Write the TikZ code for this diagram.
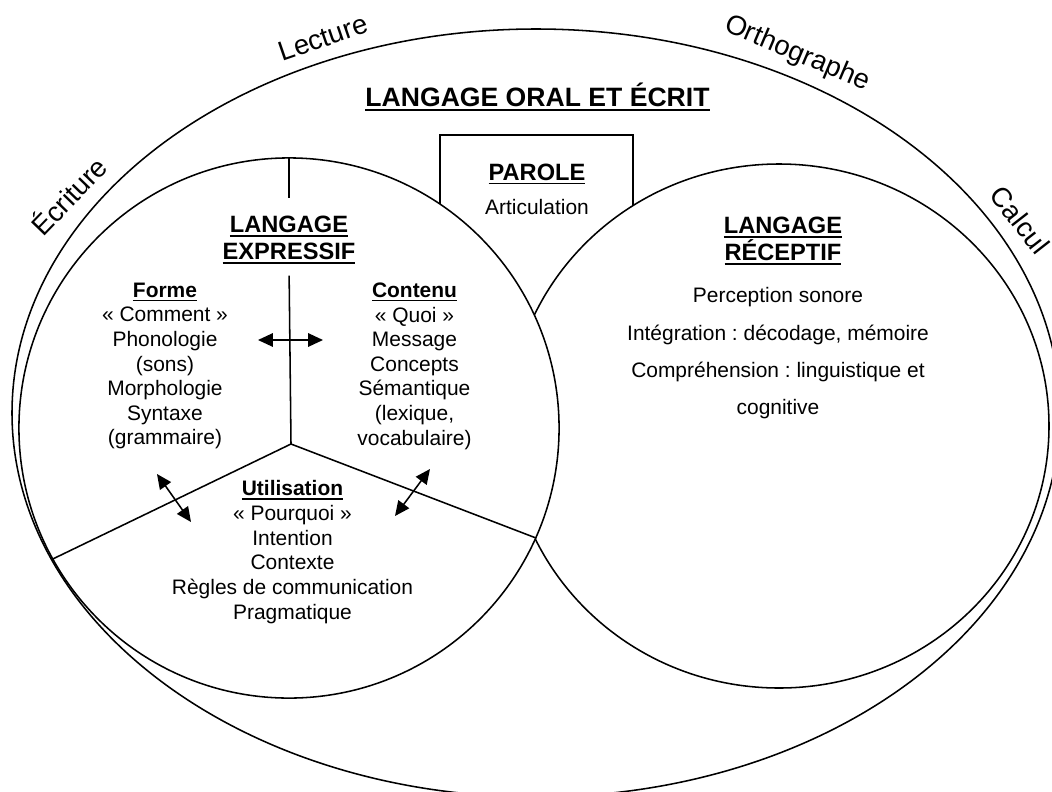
\documentclass[tikz,border=0pt]{standalone}
\usepackage{fontspec}
\setmainfont{Liberation Sans}
\frenchspacing
\usetikzlibrary{positioning}
\usetikzlibrary{arrows.meta}
\newcommand{\ulhead}[1]{\setbox0\hbox{#1}\rlap{\rule[-0.19em]{\wd0}{0.08em}}\box0}

\begin{document}
\begin{tikzpicture}[x=0.025cm,y=-0.025cm,line width=1.1pt,
  >={Triangle[length=10.5pt,width=9.5pt]},
  body/.style={font=\fontsize{14.9}{17.5}\selectfont,align=center,inner sep=0pt},
  head/.style={font=\bfseries\fontsize{16.8}{19.2}\selectfont,align=center,inner sep=0pt},
  rim/.style={font=\fontsize{19.6}{22}\selectfont,inner sep=0pt}]
\useasboundingbox (0,0) rectangle (1052,791);
\clip (0,0) rectangle (1052,791);

\draw (536,413) ellipse [x radius=524,y radius=384];
\draw (440,215) -- (440,135) -- (633,135) -- (633,215);
\draw[fill=white] (779,426) ellipse [x radius=270,y radius=262];
\node[circle,draw,fill=white,minimum size=13.5cm,inner sep=0pt] (expr) at (289,428) {};

\node[font=\bfseries\fontsize{18.9}{22}\selectfont,anchor=base,inner sep=0pt] (oral) at (537.5,106) {\ulhead{LANGAGE ORAL ET ÉCRIT}};
\node[head,anchor=base] (parole) at (537,180) {\ulhead{PAROLE}};
\node[body,below=0.33cm of parole] (artic) {Articulation};

\node[head,anchor=north] (exptitle) at (289,215) {\ulhead{LANGAGE}\\\ulhead{EXPRESSIF}};
\node[head,anchor=north] (rectitle) at (783,216) {\ulhead{LANGAGE}\\\ulhead{RÉCEPTIF}};
\node[body,font=\fontsize{14.9}{26.5}\selectfont,anchor=north] (recbody) at (778,287) {Perception sonore\\Intégration : décodage, mémoire\\Compréhension : linguistique et\\cognitive};

\node[body,anchor=north] (forme) at (165,282) {\ulhead{\textbf{Forme}}\\« Comment »\\Phonologie\\(sons)\\Morphologie\\Syntaxe\\(grammaire)};
\node[body,anchor=north] (contenu) at (414.5,282) {\ulhead{\textbf{Contenu}}\\« Quoi »\\Message\\Concepts\\Sémantique\\(lexique,\\vocabulaire)};
\node[body,anchor=north] (utilis) at (292.5,480) {\ulhead{\textbf{Utilisation}}\\« Pourquoi »\\Intention\\Contexte\\Règles de communication\\Pragmatique};

\coordinate (hub) at (291,444);
\draw[shorten >=0.42cm] (expr.north) -- (exptitle.north);
\draw[shorten <=0.28cm] (exptitle.south) -- (hub);
\draw (hub) -- (expr.209);
\draw (hub) -- (expr.336);

\coordinate (fc1) at (258,340);
\coordinate (fc2) at (323,340);
\coordinate (fu1) at (157,474);
\coordinate (fu2) at (191,522);
\coordinate (cu1) at (430,469);
\coordinate (cu2) at (395,516);
\draw[<->] (fc1) -- (fc2);
\draw[<->] (fu1) -- (fu2);
\draw[<->] (cu1) -- (cu2);

\node[rim,rotate=19] (lecture) at (323,38) {Lecture};
\node[rim,rotate=46] (ecriture) at (68,195) {Écriture};
\node[rim,rotate=-23] (ortho) at (797,54) {Orthographe};
\node[rim,rotate=-52] (calcul) at (1020,220) {Calcul};

\end{tikzpicture}
\end{document}
